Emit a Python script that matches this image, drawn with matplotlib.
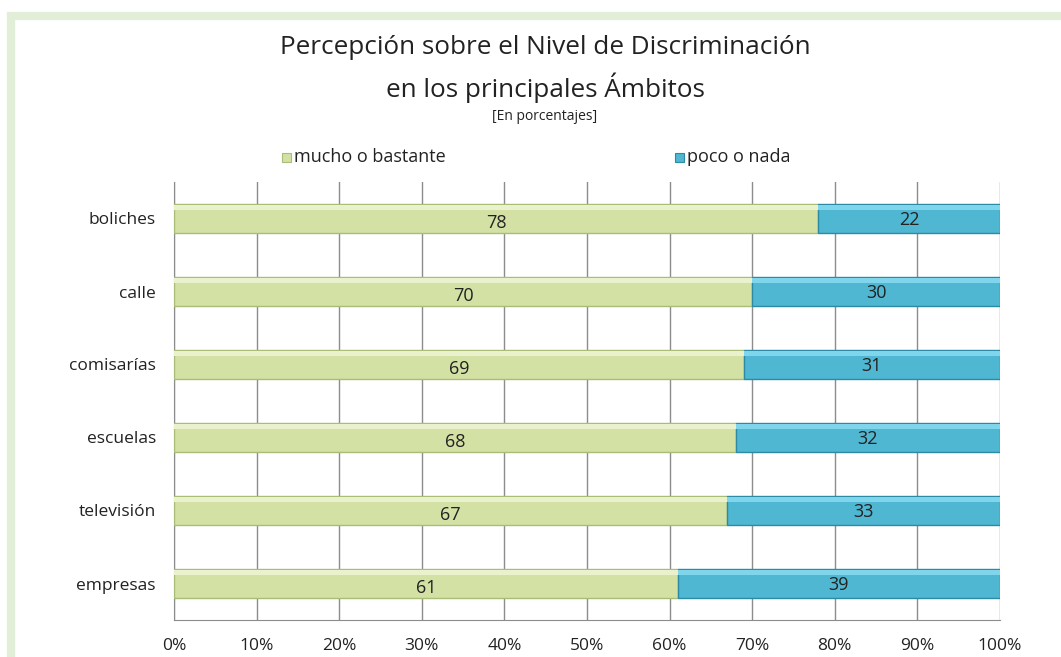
import matplotlib.pyplot as plt
from matplotlib.patches import Rectangle
import numpy as np

categorias = ['boliches', 'calle', 'comisarías', 'escuelas', 'televisión', 'empresas']
mucho = [78, 70, 69, 68, 67, 61]
poco = [22, 30, 31, 32, 33, 39]
ticks = [0, 10, 20, 30, 40, 50, 60, 70, 80, 90, 100]

plt.rcParams['font.family'] = ['Open Sans', 'DejaVu Sans']

verde = '#d3e2a4'
verde_borde = '#a9bd76'
azul = '#4fb7d1'
azul_borde = '#2d8aa5'

fig = plt.figure(figsize=(10.61, 6.57), dpi=100)

# light green frame around the chart
fig.patches.append(Rectangle((11 / 1061, -0.1), 1.2, 1 - 16 / 657 + 0.1,
                             transform=fig.transFigure, facecolor='none',
                             edgecolor='#e3eed8', linewidth=6, zorder=0))

ax = fig.add_axes([174 / 1061, 1 - 620 / 657, 826 / 1061, 438 / 657])
y = np.arange(len(categorias))
h = 0.41

ax.barh(y, mucho, height=h, color=verde, edgecolor=verde_borde, linewidth=1, zorder=3)
ax.barh(y, poco, left=mucho, height=h, color=azul, edgecolor=azul_borde, linewidth=1, zorder=3)
# lighter strip on top of the bars for the bevel look
ax.barh(y - h * 0.36, mucho, height=h * 0.18, color='#e9f2cc', linewidth=0, zorder=4)
ax.barh(y - h * 0.36, poco, left=mucho, height=h * 0.18, color='#7fd6ec', linewidth=0, zorder=4)

for i in range(len(categorias)):
    ax.text(mucho[i] / 2, y[i] + 0.06, str(mucho[i]), ha='center', va='center',
            fontsize=13, color='#222222', zorder=5)
    ax.text(mucho[i] + poco[i] / 2, y[i] + 0.02, str(poco[i]), ha='center', va='center',
            fontsize=13, color='#222222', zorder=5)

ax.set_xlim(0, 100)
ax.set_ylim(len(categorias) - 0.5, -0.5)
ax.set_xticks(ticks)
ax.set_xticklabels([f'{t}%' for t in ticks], fontsize=12.5, color='#222222')
ax.set_yticks(y)
ax.set_yticklabels(categorias, fontsize=12.5, color='#222222')
ax.tick_params(axis='both', length=0)
ax.tick_params(axis='x', pad=13)
ax.tick_params(axis='y', pad=13)
ax.grid(axis='x', color='#8c8c8c', linewidth=1, zorder=0)
ax.set_axisbelow(True)
for s in ['top', 'right']:
    ax.spines[s].set_visible(False)
ax.spines['left'].set_color('#8c8c8c')
ax.spines['bottom'].set_color('#8c8c8c')

fig.text(545 / 1061, 1 - 48 / 657, 'Percepción sobre el Nivel de Discriminación',
         ha='center', va='center', fontsize=18.8, color='#222222')
fig.text(545 / 1061, 1 - 88 / 657, 'en los principales Ámbitos',
         ha='center', va='center', fontsize=18.8, color='#222222')
fig.text(545 / 1061, 1 - 117 / 657, '[En porcentajes]',
         ha='center', va='center', fontsize=10, color='#222222')

# legend
for x0, col, edge, lab in [(282, verde, verde_borde, 'mucho o bastante'),
                           (675, azul, azul_borde, 'poco o nada')]:
    fig.patches.append(Rectangle((x0 / 1061, 1 - 162 / 657), 9 / 1061, 9 / 657,
                                 transform=fig.transFigure, facecolor=col,
                                 edgecolor=edge, linewidth=0.8))
    fig.text((x0 + 12) / 1061, 1 - 157 / 657, lab, ha='left', va='center',
             fontsize=13, color='#222222')

fig.savefig('out.png', dpi=100)
